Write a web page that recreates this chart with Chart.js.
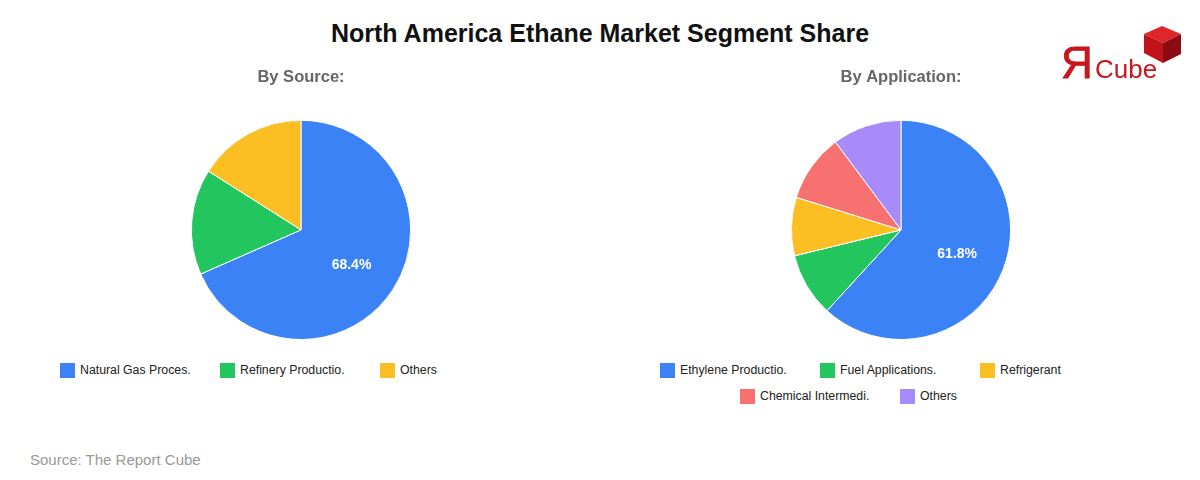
<!DOCTYPE html>
<html>
<head>
<meta charset="utf-8">
<script src="https://cdn.jsdelivr.net/npm/chart.js@4.4.1/dist/chart.umd.min.js"></script>
<style>
  body { margin: 0; background: #fff; font-family: "Liberation Sans", Arial, sans-serif; }
  #wrap { position: relative; width: 1200px; height: 480px; overflow: hidden; }
  #title { position: absolute; left: 0; top: 18px; width: 1200px; text-align: center; font-size: 25px; font-weight: bold; color: #111; line-height: 30px; }
  .box { position: absolute; top: 60px; width: 602px; height: 280px; }
  .legend { position: absolute; top: 362px; width: 480px; display: flex; flex-wrap: wrap; justify-content: center; row-gap: 10px; }
  .legend .item { width: 160px; display: flex; align-items: center; font-size: 12.3px; color: #222; height: 16px; }
  .legend .sw { width: 15px; height: 15px; margin-right: 5px; flex: none; }
  #source { position: absolute; left: 30px; top: 451px; font-size: 15px; color: #999; }
  #logo { position: absolute; left: 1060px; top: 24px; width: 130px; height: 60px; }
</style>
</head>
<body>
<div id="wrap">
  <div id="title">North America Ethane Market Segment Share</div>
  <div class="box" style="left:0px"><canvas id="sourceChart"></canvas></div>
  <div class="box" style="left:600px"><canvas id="appChart"></canvas></div>
  <div class="legend" id="sourceLegend" style="left:60px"></div>
  <div class="legend" id="appLegend" style="left:660px"></div>
  <div id="source">Source: The Report Cube</div>
  <svg id="logo" viewBox="0 0 130 60">
    <text x="1" y="54" font-family="Liberation Sans, Arial" font-size="44" fill="#c8161d" stroke="#c8161d" stroke-width="0.8">Я</text>
    <text x="35" y="54" font-family="Liberation Sans, Arial" font-size="26" fill="#c8161d">Cube</text>
    <polygon points="84,10 102,2 121,10 103,19" fill="#e0262a"/>
    <polygon points="84,10 103,19 103,39 84,29" fill="#c0141a"/>
    <polygon points="103,19 121,10 121,30 103,39" fill="#8c0b10"/>
  </svg>
</div>
<script>
var sourceLabels = ["Natural Gas Proces.", "Refinery Productio.", "Others"];
var sourceValues = [68.4, 15.6, 16.0];
var sourceColors = ["#3b82f6", "#22c55e", "#fbbf24"];

var appLabels = ["Ethylene Productio.", "Fuel Applications.", "Refrigerant", "Chemical Intermedi.", "Others"];
var appValues = [61.8, 9.4, 8.6, 10.0, 10.2];
var appColors = ["#3b82f6", "#22c55e", "#fbbf24", "#f87171", "#a78bfa"];

// only the big slice gets its percentage written on it
var bigLabel = {
  id: "bigLabel",
  afterDatasetsDraw: function(chart) {
    var ctx = chart.ctx;
    var data = chart.data.datasets[0].data;
    var total = data.reduce(function(a, b) { return a + b; }, 0);
    chart.getDatasetMeta(0).data.forEach(function(arc, i) {
      var pct = data[i] / total * 100;
      if (pct < 30) return;
      var mid = (arc.startAngle + arc.endAngle) / 2;
      var r = arc.outerRadius * 0.55;
      ctx.save();
      ctx.fillStyle = "#fff";
      ctx.font = "bold 14px 'Liberation Sans', Arial, sans-serif";
      ctx.textAlign = "center";
      ctx.textBaseline = "middle";
      ctx.fillText(pct.toFixed(1) + "%", arc.x + Math.cos(mid) * r, arc.y + Math.sin(mid) * r + 2);
      ctx.restore();
    });
  }
};

function makePie(id, title, labels, values, colors) {
  new Chart(document.getElementById(id), {
    type: "pie",
    data: {
      labels: labels,
      datasets: [{ data: values, backgroundColor: colors, borderColor: "#fff", borderWidth: 1 }]
    },
    options: {
      responsive: true,
      maintainAspectRatio: false,
      animation: false,
      layout: { padding: 0 },
      plugins: {
        legend: { display: false },
        tooltip: { enabled: false },
        title: {
          display: true,
          text: title,
          color: "#666",
          font: { family: "'Liberation Sans', Arial, sans-serif", size: 16.5, weight: "bold" },
          padding: { top: 8, bottom: 32 }
        }
      }
    },
    plugins: [bigLabel]
  });
}

function makeLegend(id, labels, colors) {
  var el = document.getElementById(id);
  labels.forEach(function(l, i) {
    var item = document.createElement("div");
    item.className = "item";
    item.innerHTML = '<span class="sw" style="background:' + colors[i] + '"></span><span>' + l + '</span>';
    el.appendChild(item);
  });
}

makePie("sourceChart", "By Source:", sourceLabels, sourceValues, sourceColors);
makePie("appChart", "By Application:", appLabels, appValues, appColors);
makeLegend("sourceLegend", sourceLabels, sourceColors);
makeLegend("appLegend", appLabels, appColors);
</script>
</body>
</html>
